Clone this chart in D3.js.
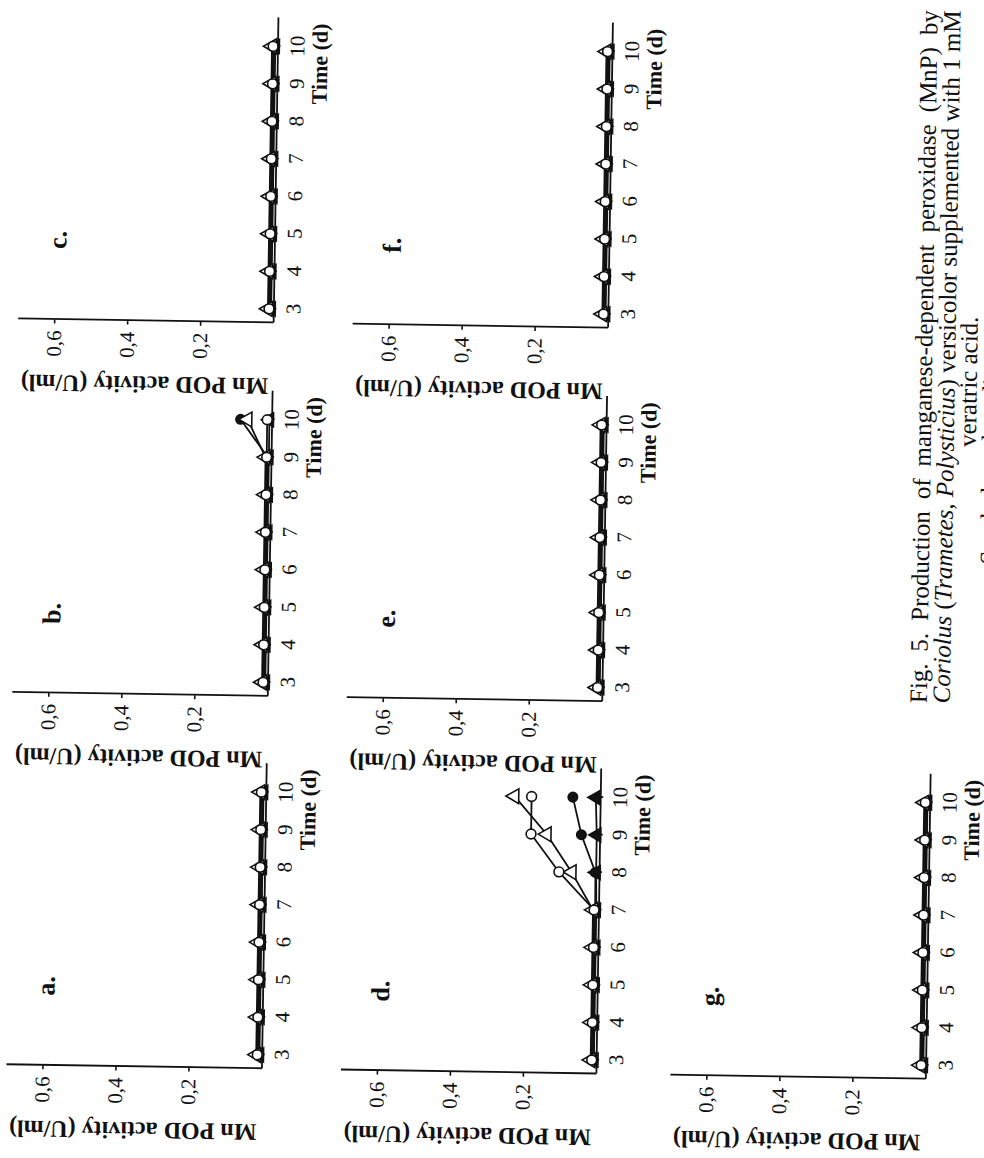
<!DOCTYPE html>
<html>
<head>
<meta charset="utf-8">
<script src="https://cdn.jsdelivr.net/npm/d3@7"></script>
<style>
  body { margin: 0; background: #fff; }
  svg { display: block; }
  text { font-family: "Liberation Serif", "Times New Roman", serif; fill: #111; }
</style>
</head>
<body>
<div id="chart"></div>
<script>
// days on the time axis, one value per day for every series
const days = [3, 4, 5, 6, 7, 8, 9, 10];
const panelLabels = ["a.", "b.", "c.", "d.", "e.", "f.", "g."];
const activityTicks = [0.2, 0.4, 0.6];

// Mn POD activity (U/ml), one row per panel a..g
const openCircle = [
  [0.012, 0.012, 0.012, 0.012, 0.012, 0.012, 0.012, 0.012],
  [0.012, 0.012, 0.012, 0.012, 0.012, 0.012, 0.012, 0.012],
  [0.012, 0.012, 0.012, 0.012, 0.012, 0.012, 0.012, 0.012],
  [0.012, 0.012, 0.012, 0.012, 0.012, 0.110, 0.188, 0.188],
  [0.012, 0.012, 0.012, 0.012, 0.012, 0.012, 0.012, 0.012],
  [0.012, 0.012, 0.012, 0.012, 0.012, 0.012, 0.012, 0.012],
  [0.012, 0.012, 0.012, 0.012, 0.012, 0.012, 0.012, 0.012]
];
const filledCircle = [
  [0.009, 0.009, 0.009, 0.009, 0.009, 0.009, 0.009, 0.009],
  [0.009, 0.009, 0.009, 0.009, 0.009, 0.009, 0.009, 0.085],
  [0.009, 0.009, 0.009, 0.009, 0.009, 0.009, 0.009, 0.009],
  [0.009, 0.009, 0.009, 0.009, 0.009, 0.010, 0.050, 0.075],
  [0.009, 0.009, 0.009, 0.009, 0.009, 0.009, 0.009, 0.009],
  [0.009, 0.009, 0.009, 0.009, 0.009, 0.009, 0.009, 0.009],
  [0.009, 0.009, 0.009, 0.009, 0.009, 0.009, 0.009, 0.009]
];
const openTriangle = [
  [0.015, 0.015, 0.015, 0.015, 0.015, 0.015, 0.015, 0.015],
  [0.015, 0.015, 0.015, 0.015, 0.015, 0.015, 0.015, 0.066],
  [0.015, 0.015, 0.015, 0.015, 0.015, 0.015, 0.015, 0.015],
  [0.015, 0.015, 0.015, 0.015, 0.015, 0.075, 0.145, 0.235],
  [0.015, 0.015, 0.015, 0.015, 0.015, 0.015, 0.015, 0.015],
  [0.015, 0.015, 0.015, 0.015, 0.015, 0.015, 0.015, 0.015],
  [0.015, 0.015, 0.015, 0.015, 0.015, 0.015, 0.015, 0.015]
];
const filledTriangle = [
  [0.006, 0.006, 0.006, 0.006, 0.006, 0.006, 0.006, 0.006],
  [0.006, 0.006, 0.006, 0.006, 0.006, 0.006, 0.006, 0.006],
  [0.006, 0.006, 0.006, 0.006, 0.006, 0.006, 0.006, 0.006],
  [0.006, 0.006, 0.006, 0.006, 0.006, 0.008, 0.008, 0.012],
  [0.006, 0.006, 0.006, 0.006, 0.006, 0.006, 0.006, 0.006],
  [0.006, 0.006, 0.006, 0.006, 0.006, 0.006, 0.006, 0.006],
  [0.006, 0.006, 0.006, 0.006, 0.006, 0.006, 0.006, 0.006]
];

const captionLine1 = "Fig. 5. Production of manganese-dependent peroxidase (MnP) by";
const captionLine2 = [
  ["Coriolus", true], [" (", false], ["Trametes", true], [", ", false],
  ["Polysticius", true], [") versicolor supplemented with 1 mM", false]
];
const captionLine3 = "veratric acid.";
const captionLine4 = "Symbols and media as in Fig. 1.";

// the page is printed sideways and scanned slightly skewed
const W = 984, H = 1158;
const svg = d3.select("#chart").append("svg")
  .attr("width", W)
  .attr("height", H);

svg.append("rect").attr("width", W).attr("height", H).attr("fill", "#fff");

const page = svg.append("g")
  .attr("transform", `translate(0,${H}) rotate(-90)`)
  .append("g")
  .attr("transform", "rotate(0.9,600,600)");

const colX = [84, 456.5, 830];
const rowY = [269.5, 604, 933.5];
const plotW = 305, plotH = 255.5;

const x = d3.scaleLinear().domain([2.63, 10.76]).range([0, plotW]);
const y = d3.scaleLinear().domain([0, 0.7]).range([0, -plotH]);

const seriesStyles = [
  { data: filledTriangle, shape: d3.symbolTriangle, size: 85, fill: "#111" },
  { data: filledCircle, shape: d3.symbolCircle, size: 70, fill: "#111" },
  { data: openTriangle, shape: d3.symbolTriangle, size: 95, fill: "#fff" },
  { data: openCircle, shape: d3.symbolCircle, size: 75, fill: "#fff" }
];

const line = d3.line()
  .x((d, i) => x(days[i]))
  .y(d => y(d));

panelLabels.forEach((label, p) => {
  const g = page.append("g")
    .attr("transform", `translate(${colX[p % 3]},${rowY[Math.floor(p / 3)]})`);

  const xAxis = g.append("g")
    .call(d3.axisBottom(x).tickValues(days).tickSize(3).tickSizeOuter(0).tickPadding(0));
  xAxis.attr("font-family", null).attr("font-size", null);
  xAxis.select(".domain").attr("stroke", "#111").attr("stroke-width", 1.8);
  xAxis.selectAll(".tick line").attr("y1", -8).attr("y2", 3).attr("stroke", "#111").attr("stroke-width", 1.6);
  xAxis.selectAll(".tick text")
    .attr("y", 27)
    .attr("dy", 0)
    .style("font-size", "21px");

  const yAxis = g.append("g")
    .call(d3.axisLeft(y).tickValues(activityTicks).tickSize(4).tickSizeOuter(0).tickPadding(7)
      .tickFormat(d => d.toFixed(1).replace(".", ",")));
  yAxis.attr("font-family", null).attr("font-size", null);
  yAxis.select(".domain").attr("stroke", "#111").attr("stroke-width", 1.8);
  yAxis.selectAll(".tick line").attr("stroke", "#111").attr("stroke-width", 1.6);
  yAxis.selectAll(".tick text").style("font-size", "21px");

  g.append("text")
    .attr("transform", `translate(-64,${-plotH / 2}) rotate(-90)`)
    .attr("text-anchor", "middle")
    .attr("dy", "0.35em")
    .style("font-size", "24px")
    .style("font-weight", "bold")
    .text("Mn POD activity (U/ml)");

  g.append("text")
    .attr("x", x(9.55))
    .attr("y", 50)
    .attr("text-anchor", "middle")
    .style("font-size", "22px")
    .style("font-weight", "bold")
    .text("Time (d)");

  g.append("text")
    .attr("x", x(4.75))
    .attr("y", y(0.57))
    .attr("text-anchor", "middle")
    .style("font-size", "26px")
    .style("font-weight", "bold")
    .text(label);

  seriesStyles.forEach(s => {
    g.append("path")
      .attr("d", line(s.data[p]))
      .attr("fill", "none")
      .attr("stroke", "#111")
      .attr("stroke-width", 1.8);
  });

  seriesStyles.forEach(s => {
    g.selectAll(null)
      .data(s.data[p])
      .enter()
      .append("path")
      .attr("transform", (d, i) => `translate(${x(days[i])},${y(d)})`)
      .attr("d", d3.symbol().type(s.shape).size(s.size))
      .attr("fill", s.fill)
      .attr("stroke", "#111")
      .attr("stroke-width", 1.6);
  });
});

// caption, justified like the printed page
const capLeft = 460, capRight = 1153;
function justify(t) {
  const natural = t.node().getComputedTextLength();
  const spaces = (t.text().match(/ /g) || []).length;
  if (spaces > 0) t.attr("word-spacing", Math.max(0, (capRight - capLeft - natural) / spaces));
}

const c1 = page.append("text")
  .attr("x", capLeft).attr("y", 929)
  .style("font-size", "25px")
  .text(captionLine1);
justify(c1);

const c2 = page.append("text")
  .attr("x", capLeft).attr("y", 952)
  .style("font-size", "25px");
captionLine2.forEach(([s, it]) => {
  c2.append("tspan").style("font-style", it ? "italic" : "normal").text(s);
});
justify(c2);

page.append("text")
  .attr("x", 782).attr("y", 974)
  .attr("text-anchor", "middle")
  .style("font-size", "25px")
  .text(captionLine3);

page.append("text")
  .attr("x", 760).attr("y", 997)
  .attr("text-anchor", "middle")
  .style("font-size", "25px")
  .text(captionLine4);
</script>
</body>
</html>
